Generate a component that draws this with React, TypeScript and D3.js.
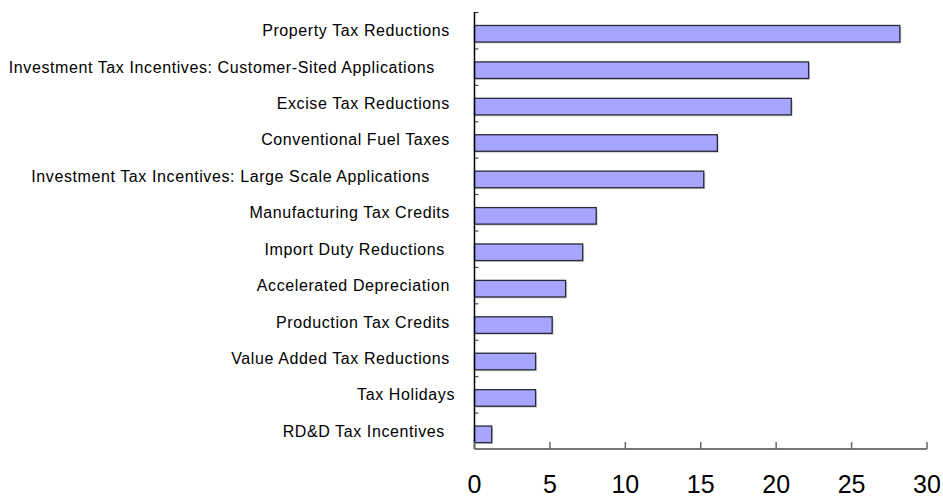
import React from "react";
import * as d3 from "d3";

const categories = [
  "Property Tax Reductions ",
  "Investment Tax Incentives: Customer-Sited Applications    ",
  "Excise Tax Reductions ",
  "Conventional Fuel Taxes ",
  "Investment Tax Incentives: Large Scale Applications     ",
  "Manufacturing Tax Credits ",
  "Import Duty Reductions  ",
  "Accelerated Depreciation ",
  "Production Tax Credits ",
  "Value Added Tax Reductions ",
  "Tax Holidays",
  "RD&D Tax Incentives  ",
];
const values = [28.2, 22.15, 21.0, 16.1, 15.2, 8.07, 7.17, 6.04, 5.15, 4.05, 4.05, 1.14];
const xTicks = [0, 5, 10, 15, 20, 25, 30];

const W = 943;
const H = 499;
const left = 474.5;
const right = 927;
const top = 12;
const bottom = 449;
const font = "'Liberation Sans', Arial, sans-serif";

export default function App() {
  const x = d3.scaleLinear().domain([0, 30]).range([left, right]);
  const y = d3.scaleBand<string>().domain(categories).range([top, bottom]).padding(0);
  const bw = y.bandwidth();
  const boundaries = d3.range(categories.length).map((i) => top + i * bw);

  return (
    <svg
      width={W}
      height={H}
      style={{ position: "absolute", left: 0, top: 0, background: "#fff" }}
      fontFamily={font}
    >
      {/* bars */}
      {categories.map((c, i) => (
        <g key={c}>
          <rect
            x={x(0) + 1.5}
            y={(y(c) as number) + bw * 0.37 + 1.5}
            width={x(values[i]) - x(0)}
            height={bw * 0.455}
            fill="#d0d0d0"
          />
          <rect
            x={x(0)}
            y={(y(c) as number) + bw * 0.37}
            width={x(values[i]) - x(0)}
            height={bw * 0.455}
            fill="#a6a6ff"
            stroke="#2a2a3a"
            strokeWidth={1.3}
          />
        </g>
      ))}
      {/* y tick marks at category boundaries */}
      {boundaries.map((b, i) => (
        <line key={i} x1={left} x2={left + 4} y1={b + 0.5} y2={b + 0.5} stroke="#333" strokeWidth={1} />
      ))}
      {/* y axis */}
      <line x1={left} x2={left} y1={top} y2={bottom} stroke="#000" strokeWidth={1.5} />
      {/* x axis */}
      <line x1={left} x2={right} y1={bottom} y2={bottom} stroke="#777" strokeWidth={2} />
      {xTicks.map((t) => (
        <g key={t}>
          <line x1={x(t)} x2={x(t)} y1={bottom} y2={bottom - 7} stroke="#666" strokeWidth={1.5} />
          <text x={x(t)} y={493} textAnchor="middle" fontSize={25} fill="#000">
            {t}
          </text>
        </g>
      ))}
      {/* category labels */}
      {categories.map((c) => (
        <text
          key={c}
          x={455}
          y={(y(c) as number) + bw / 2 + 6}
          textAnchor="end"
          fontSize={16}
          letterSpacing={0.6}
          fill="#000"
          style={{ whiteSpace: "pre" }}
        >
          {c}
        </text>
      ))}
    </svg>
  );
}
